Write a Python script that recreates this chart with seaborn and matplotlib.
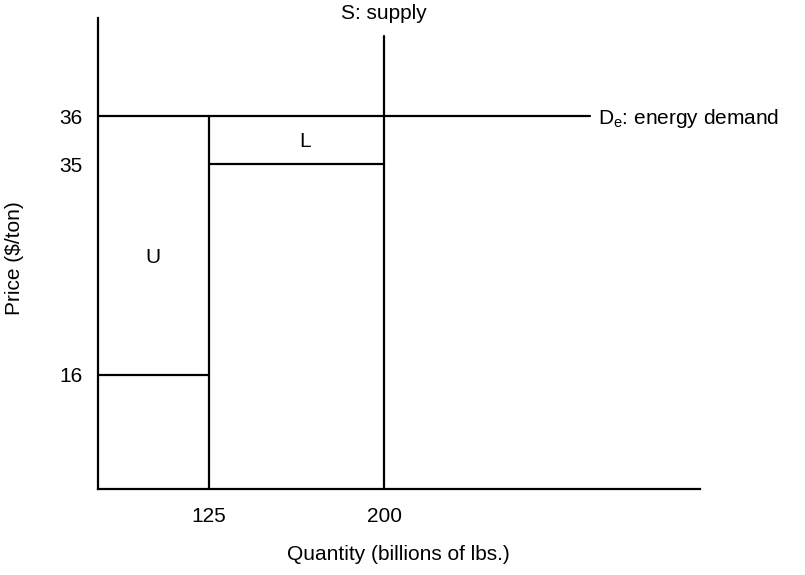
import numpy as np
import matplotlib
matplotlib.use("Agg")
import matplotlib.pyplot as plt
import seaborn as sns

# Price levels and quantities from the diagram (schematic, broken scale)
price_ticks = [16, 35, 36]
qty_ticks = [125, 200]
p_low, p_mid, p_high = 16, 35, 36
q_a, q_s = 125, 200
q_demand_end = 290
p_supply_top = 39

# piecewise scales so the schematic spacing matches the drawing
y_src = [0, 16, 35, 36, 39, 40]
y_dst = [0, 114, 325, 373, 453, 471]
x_src = [0, 125, 200, 290, 340]
x_dst = [0, 111, 286, 492, 602]


def fy(v):
    return np.interp(v, y_src, y_dst)


def iy(v):
    return np.interp(v, y_dst, y_src)


def fx(v):
    return np.interp(v, x_src, x_dst)


def ix(v):
    return np.interp(v, x_dst, x_src)


sns.set_style("white")
plt.rcParams['font.family'] = ['Liberation Sans', 'DejaVu Sans']
plt.rcParams['text.color'] = 'black'
plt.rcParams['xtick.color'] = 'black'
plt.rcParams['ytick.color'] = 'black'
plt.rcParams['mathtext.fontset'] = 'custom'
plt.rcParams['mathtext.rm'] = 'Liberation Sans'
plt.rcParams['mathtext.it'] = 'Liberation Sans'

fig = plt.figure(figsize=(8.05, 5.75), dpi=100)
ax = fig.add_axes([98 / 805, 1 - 489 / 575, 602 / 805, 471 / 575])
ax.set_xscale('function', functions=(fx, ix))
ax.set_yscale('function', functions=(fy, iy))
ax.set_xlim(0, 340)
ax.set_ylim(0, 40)

segments = [
    ([0, q_demand_end], [p_high, p_high]),   # energy demand
    ([q_s, q_s], [0, p_supply_top]),          # supply
    ([q_a, q_a], [0, p_high]),
    ([q_a, q_s], [p_mid, p_mid]),
    ([0, q_a], [p_low, p_low]),
]
for xs, ys in segments:
    sns.lineplot(x=xs, y=ys, ax=ax, color='black', lw=1.6, sort=False,
                 estimator=None)

ax.text(62, 26.6, "U", fontsize=15, ha='center', va='center')
ax.text(166, 35.46, "L", fontsize=15, ha='center', va='center')
ax.text(q_s, 1.009, "S: supply", fontsize=15, ha='center', va='center',
        transform=ax.get_xaxis_transform(), clip_on=False)
ax.annotate(r"D$_\mathrm{e}$: energy demand", xy=(q_demand_end, p_high),
            xytext=(6, -2), textcoords='offset points', fontsize=15,
            ha='left', va='center', annotation_clip=False)

ax.set_yticks(price_ticks)
ax.set_yticklabels([str(p) for p in price_ticks])
ax.set_xticks(qty_ticks)
ax.set_xticklabels([str(q) for q in qty_ticks])
ax.tick_params(axis='y', length=0, pad=11, labelsize=15, labelcolor='black')
ax.tick_params(axis='x', length=0, pad=13, labelsize=15, labelcolor='black')
ax.minorticks_off()

sns.despine(ax=ax)
for s in ['left', 'bottom']:
    ax.spines[s].set_linewidth(1.6)
    ax.spines[s].set_color('black')

fig.text(398 / 805, 1 - 555 / 575, "Quantity (billions of lbs.)", fontsize=15,
         ha='center', va='center')
fig.text(15 / 805, 1 - 258 / 575, "Price ($/ton)", fontsize=15,
         ha='center', va='center', rotation=90)

fig.savefig("out.png", dpi=100)
